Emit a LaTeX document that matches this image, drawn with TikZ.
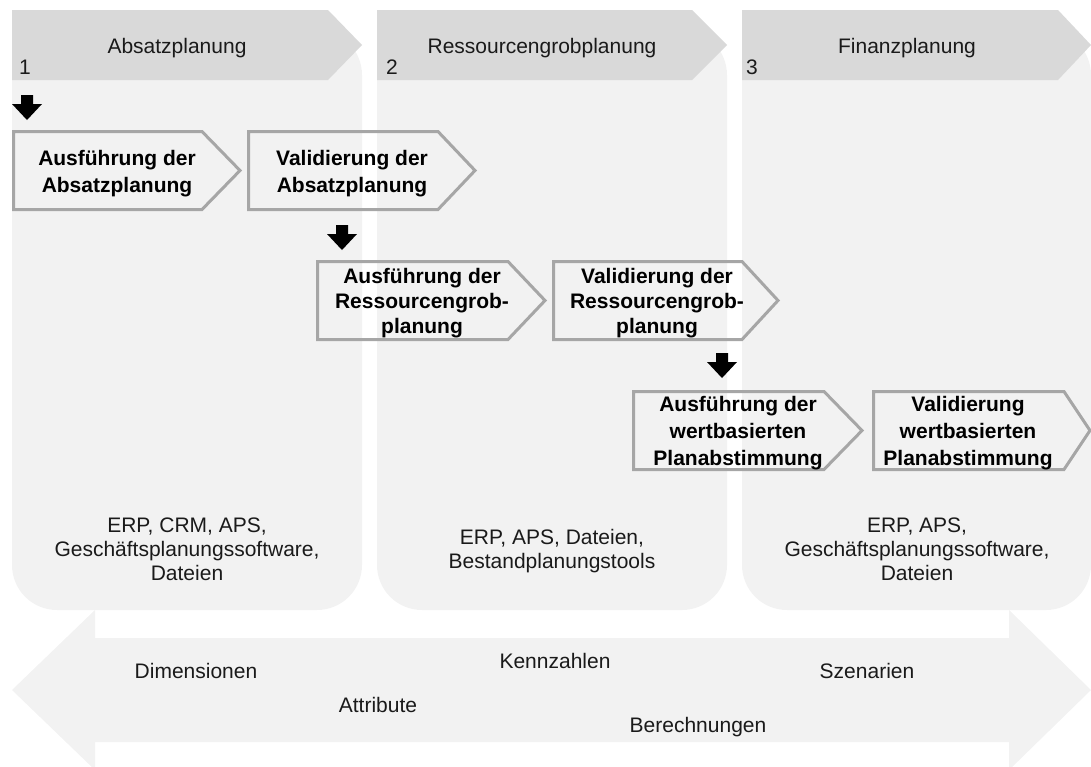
\documentclass[tikz,border=0pt]{standalone}
\usepackage{fontspec}
\setmainfont{Liberation Sans}
\definecolor{phasebg}{HTML}{F2F2F2}
\definecolor{phasehead}{HTML}{D9D9D9}
\definecolor{boxedge}{HTML}{A6A6A6}
\definecolor{txt}{HTML}{1A1A1A}
\tikzset{
  phase/.style={fill=phasebg, rounded corners=45pt},
  phasehead/.style={fill=phasehead},
  plain/.style={inner sep=0pt, text=txt, font=\fontsize{21}{24}\selectfont, align=center},
  steptext/.style={inner sep=0pt, text=black, align=center, font=\bfseries\fontsize{21}{27}\selectfont},
  stepline/.style={draw=boxedge, line width=3pt, line join=miter},
  pics/downarrow/.style={code={
    \fill[black] (-6,0) -- (6,0) -- (6,9) -- (15,9) -- (0,25) -- (-15,9) -- (-6,9) -- cycle;}}
}
% #1 extra text options, #2 name, #3 left, #4 top, #5 end of straight part,
% #6 tip, #7 text x, #8 text
\newcommand\stepbox[8][]{%
  \draw[stepline] (#3+1.5,#4+1.5) -- (#5,#4+1.5) -- (#6-2,#4+40.5)
    -- (#5,#4+79.5) -- (#3+1.5,#4+79.5) -- cycle;
  \node[steptext,#1] (#2) at (#7,#4+43.5) {#8};
}
\begin{document}
\begin{tikzpicture}[x=1pt,y=-1pt]
\useasboundingbox (0,0) rectangle (1091,766);

% phase columns
\fill[phase] (12,30) rectangle (362,610);
\fill[phase] (377,30) rectangle (727,610);
\fill[phase] (742,30) rectangle (1091,610);

% phase headers
\fill[phasehead] (12,10) -- (328,10) -- (362,45) -- (328,80) -- (12,80) -- cycle;
\fill[phasehead] (377,10) -- (692,10) -- (727,45) -- (692,80) -- (377,80) -- cycle;
\fill[phasehead] (742,10) -- (1058,10) -- (1091,45) -- (1058,80) -- (742,80) -- cycle;

\node[plain, anchor=base] (h1) at (177,53) {Absatzplanung};
\node[plain, anchor=base] (h2) at (542,53) {Ressourcengrobplanung};
\node[plain, anchor=base] (h3) at (907,53) {Finanzplanung};
\node[plain, anchor=base west] (n1) at (19,74) {1};
\node[plain, anchor=base west] (n2) at (386,74) {2};
\node[plain, anchor=base west] (n3) at (746,74) {3};

% process steps
\stepbox{s1}{12}{130}{202}{242}{117}{Ausführung der\\Absatzplanung}
\stepbox{s2}{247}{130}{438}{477}{352}{Validierung der\\Absatzplanung}
\stepbox[font=\bfseries\fontsize{21}{25}\selectfont]{s3}{316}{260}{508}{547}{422}{Ausführung der\\Ressourcengrob-\\planung}
\stepbox[font=\bfseries\fontsize{21}{25}\selectfont]{s4}{552}{260}{742}{780}{657}{Validierung der\\Ressourcengrob-\\planung}
\stepbox{s5}{632}{390}{824}{864}{738}{Ausführung der\\wertbasierten\\Planabstimmung}
\stepbox{s6}{872}{390}{1064}{1092}{968}{Validierung\\wertbasierten\\Planabstimmung}

% flow between steps
\pic at (27,95) {downarrow};
\pic at (342,225) {downarrow};
\pic at (722,353) {downarrow};

% systems per phase (anchored at the baseline of the last line)
\node[plain, anchor=base] (t1) at (187,580) {ERP, CRM, APS,\\Geschäftsplanungssoftware,\\Dateien};
\node[plain, anchor=base] (t2) at (552,568) {ERP, APS, Dateien,\\Bestandplanungstools};
\node[plain, anchor=base] (t3) at (917,580) {ERP, APS,\\Geschäftsplanungssoftware,\\Dateien};

% shared planning objects
\fill[phasebg] (12,690) -- (95,610) -- (95,638) -- (1009,638) -- (1009,610)
  -- (1091,690) -- (1009,770) -- (1009,742) -- (95,742) -- (95,770) -- cycle;
\node[plain, anchor=base] (d1) at (196,678) {Dimensionen};
\node[plain, anchor=base] (d2) at (378,712) {Attribute};
\node[plain, anchor=base] (d3) at (555,668) {Kennzahlen};
\node[plain, anchor=base] (d4) at (867,678) {Szenarien};
\node[plain, anchor=base] (d5) at (698,732) {Berechnungen};
\end{tikzpicture}
\end{document}
